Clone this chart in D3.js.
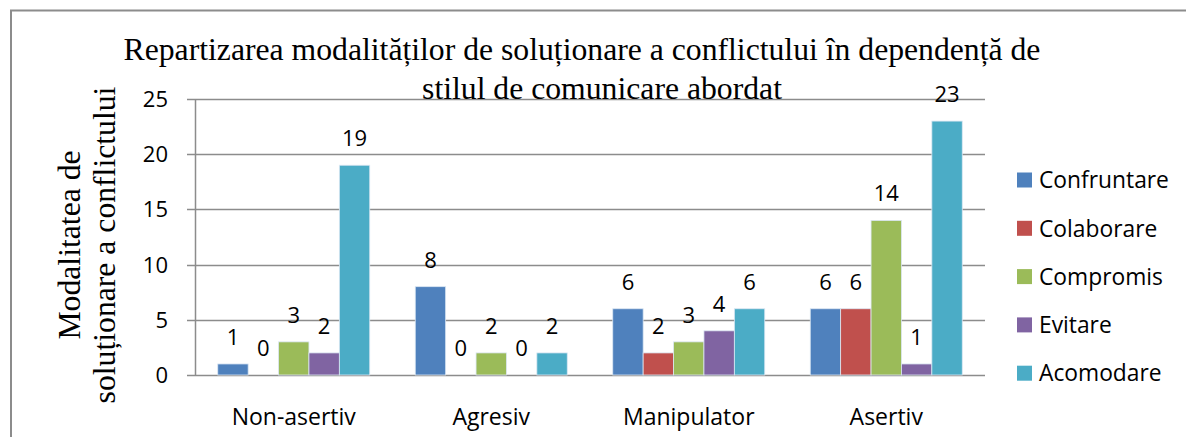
<!DOCTYPE html>
<html>
<head>
<meta charset="utf-8">
<script src="https://cdn.jsdelivr.net/npm/d3@7"></script>
<style>
  body { margin: 0; background: #fff; }
  svg { display: block; }
</style>
</head>
<body>
<div id="chart"></div>
<script>
// categories (communication style) and series (conflict resolution mode)
var categories = ["Non-asertiv", "Agresiv", "Manipulator", "Asertiv"];
var seriesNames = ["Confruntare", "Colaborare", "Compromis", "Evitare", "Acomodare"];
var seriesColors = ["#4F81BD", "#C0504D", "#9BBB59", "#8064A2", "#4BACC6"];

var confruntare = [1, 8, 6, 6];
var colaborare = [0, 0, 2, 6];
var compromis = [3, 2, 3, 14];
var evitare = [2, 0, 4, 1];
var acomodare = [19, 2, 6, 23];
var seriesValues = [confruntare, colaborare, compromis, evitare, acomodare];

var yTicks = [0, 5, 10, 15, 20, 25];

var W = 1186, H = 437;
var margin = { left: 195, right: 201, top: 99, bottom: 62 };
var width = W - margin.left - margin.right;
var height = H - margin.top - margin.bottom;

var sansFont = "Open Sans, sans-serif";
var serifFont = "Liberation Serif, Times New Roman, serif";

var svg = d3.select("#chart").append("svg")
    .attr("width", W)
    .attr("height", H);

// outer frame (only top and left edges are visible in the picture)
svg.append("path")
    .attr("d", "M11,437 L11,10.5 L1186,10.5")
    .attr("fill", "none")
    .attr("stroke", "#8c8c8c")
    .attr("stroke-width", 2);

var g = svg.append("g")
    .attr("transform", "translate(" + margin.left + "," + margin.top + ")");

var x = d3.scaleBand().domain(categories).range([0, width]);
var bandPad = 22.75;
var xs = d3.scaleBand().domain(seriesNames).range([bandPad, x.bandwidth() - bandPad]);
var y = d3.scaleLinear().domain([0, 25]).range([height, 0]);

// gridlines
g.selectAll("line.grid")
    .data(yTicks)
    .enter().append("line")
    .attr("class", "grid")
    .attr("x1", -8)
    .attr("x2", width)
    .attr("y1", function (d) { return Math.round(y(d)) + 0.5; })
    .attr("y2", function (d) { return Math.round(y(d)) + 0.5; })
    .attr("stroke", "#8c8c8c")
    .attr("stroke-width", 1.5);

// y axis line
g.append("line")
    .attr("x1", 0.5).attr("x2", 0.5)
    .attr("y1", y(25)).attr("y2", y(0))
    .attr("stroke", "#8c8c8c")
    .attr("stroke-width", 1.5);

// y tick labels
g.selectAll("text.ytick")
    .data(yTicks)
    .enter().append("text")
    .attr("class", "ytick")
    .attr("x", -27)
    .attr("y", function (d) { return y(d); })
    .attr("dy", "0.36em")
    .attr("text-anchor", "end")
    .attr("font-family", sansFont)
    .attr("font-size", 22)
    .attr("fill", "#000")
    .text(function (d) { return d; });

// bars
var groups = g.selectAll("g.cat")
    .data(categories)
    .enter().append("g")
    .attr("class", "cat")
    .attr("transform", function (d) { return "translate(" + x(d) + ",0)"; });

groups.each(function (cat, ci) {
    var cell = d3.select(this);
    var rows = seriesNames.map(function (s, si) {
        return { name: s, value: seriesValues[si][ci], color: seriesColors[si] };
    });

    cell.selectAll("rect")
        .data(rows)
        .enter().append("rect")
        .attr("x", function (d) { return xs(d.name); })
        .attr("y", function (d) { return y(d.value); })
        .attr("width", xs.bandwidth())
        .attr("height", function (d) { return y(0) - y(d.value); })
        .attr("fill", function (d) { return d.color; })
        .attr("stroke", function (d) { return d.value > 0 ? "#dbe7f3" : "none"; })
        .attr("stroke-width", 0.8);

    cell.selectAll("text")
        .data(rows)
        .enter().append("text")
        .attr("x", function (d) { return xs(d.name) + xs.bandwidth() / 2; })
        .attr("y", function (d) { return y(d.value) - 19; })
        .attr("text-anchor", "middle")
        .attr("font-family", sansFont)
        .attr("font-size", 22)
        .attr("fill", "#000")
        .text(function (d) { return d.value; });
});

// category labels
g.selectAll("text.xlab")
    .data(categories)
    .enter().append("text")
    .attr("class", "xlab")
    .attr("x", function (d) { return x(d) + x.bandwidth() / 2; })
    .attr("y", height + 50)
    .attr("text-anchor", "middle")
    .attr("font-family", sansFont)
    .attr("font-size", 23)
    .attr("fill", "#000")
    .text(function (d) { return d; });

// legend
var legend = svg.append("g")
    .attr("transform", "translate(1017,180)");

var items = legend.selectAll("g")
    .data(seriesNames)
    .enter().append("g")
    .attr("transform", function (d, i) { return "translate(0," + (i * 48.3) + ")"; });

items.append("rect")
    .attr("x", 0).attr("y", -7.5)
    .attr("width", 15).attr("height", 15)
    .attr("fill", function (d, i) { return seriesColors[i]; });

items.append("text")
    .attr("x", 22)
    .attr("y", 0)
    .attr("dy", "0.36em")
    .attr("font-family", sansFont)
    .attr("font-size", 22.8)
    .attr("fill", "#000")
    .text(function (d) { return d; });

// title
var title = svg.append("text")
    .attr("font-family", serifFont)
    .attr("font-size", 31.7)
    .attr("fill", "#000")
    .attr("text-anchor", "middle");
title.append("tspan").attr("x", 582).attr("y", 60)
    .text("Repartizarea modalităților de soluționare a conflictului în dependență de");
title.append("tspan").attr("x", 602).attr("y", 99)
    .text("stilul de comunicare abordat");

// y axis title
var ytitle = svg.append("text")
    .attr("font-family", serifFont)
    .attr("font-size", 31.7)
    .attr("fill", "#000")
    .attr("text-anchor", "middle")
    .attr("transform", "translate(0,245) rotate(-90)");
ytitle.append("tspan").attr("x", 0).attr("y", 80).text("Modalitatea de");
ytitle.append("tspan").attr("x", 0).attr("y", 115).text("soluționare a conflictului");
</script>
</body>
</html>
